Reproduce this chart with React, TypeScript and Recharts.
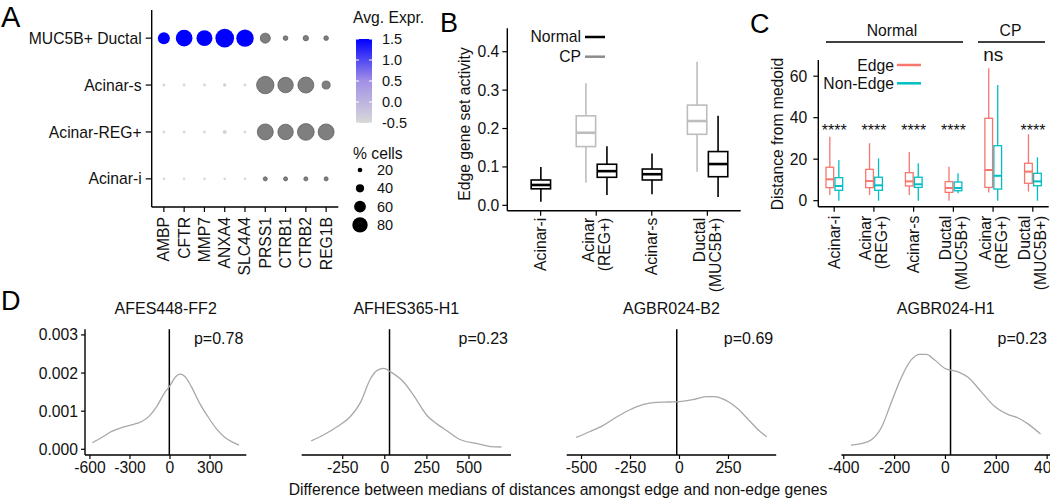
import React from "react";
import {
  ScatterChart,
  Scatter,
  ComposedChart,
  Bar,
  LineChart,
  Line,
  XAxis,
  YAxis,
  ReferenceLine,
} from "recharts";

const FONT = "Arial, 'Liberation Sans', Helvetica, sans-serif";
const FS = 15.7;

// ---------- A: dot plot ----------
const genes = ["AMBP", "CFTR", "MMP7", "ANXA4", "SLC4A4", "PRSS1", "CTRB1", "CTRB2", "REG1B"];
const cellTypes = ["Acinar-i", "Acinar-REG+", "Acinar-s", "MUC5B+ Ductal"];
// % cells expressing, per cell type (bottom row first)
const pctAcinarI = [9, 9, 9, 9, 9, 17, 17, 17, 17];
const pctAcinarREG = [11, 11, 11, 17, 11, 83, 80, 87, 83];
const pctAcinarS = [11, 11, 11, 14, 11, 91, 80, 83, 39];
const pctDuctal = [61, 87, 83, 98, 91, 50, 20, 24, 20];
// avg. expression of the ductal markers (first five genes); acinar markers drawn grey
const exprAcinarI = [-0.5, -0.5, -0.5, -0.5, -0.5];
const exprAcinarREG = [-0.5, -0.5, -0.5, -0.4, -0.5];
const exprAcinarS = [-0.5, -0.5, -0.5, -0.4, -0.5];
const exprDuctal = [1.5, 1.5, 1.5, 1.5, 1.5];
const exprBreaks = [1.5, 1.0, 0.5, 0.0, -0.5];
const pctBreaks = [20, 40, 60, 80];

// ---------- B: edge gene set activity ----------
const bLabels = ["Acinar-i", "Acinar\n(REG+)", "Acinar-s", "Ductal\n(MUC5B+)"];
// [min, q1, median, q3, max]
const bNormal = [
  [0.009, 0.043, 0.053, 0.066, 0.1],
  [0.027, 0.073, 0.089, 0.107, 0.154],
  [0.029, 0.066, 0.081, 0.0945, 0.135],
  [0.022, 0.0745, 0.1075, 0.14, 0.233],
];
const bCP = [
  null,
  [0.059, 0.153, 0.189, 0.233, 0.318],
  null,
  [0.0875, 0.185, 0.2195, 0.261, 0.374],
];

// ---------- C: distance from medoid ----------
const cLabels = [
  "Acinar-i",
  "Acinar\n(REG+)",
  "Acinar-s",
  "Ductal\n(MUC5B+)",
  "Acinar\n(REG+)",
  "Ductal\n(MUC5B+)",
];
const cEdge = [
  [2.7, 6.3, 10.3, 16.1, 30.8],
  [2.7, 6.3, 9.5, 15.1, 27.7],
  [2.7, 7.1, 9.3, 13.5, 23.5],
  [0, 4.0, 6.1, 9.2, 16.4],
  [3.9, 6.4, 14.8, 39.7, 63.8],
  [4.4, 8.4, 14.0, 18.0, 32.0],
];
const cNonEdge = [
  [0, 5.0, 7.1, 11.1, 19.6],
  [0, 5.0, 7.4, 11.3, 20.4],
  [0, 6.4, 7.9, 11.3, 18.0],
  [3.6, 4.8, 6.1, 9.0, 13.2],
  [0, 5.6, 12.0, 26.5, 55.8],
  [0, 7.2, 9.3, 13.2, 20.9],
];
const cSig = ["****", "****", "****", "****", "ns", "****"];

// ---------- D: densities ----------
const dSamples = ["AFES448-FF2", "AFHES365-H1", "AGBR024-B2", "AGBR024-H1"];
const dPvals = ["p=0.78", "p=0.23", "p=0.69", "p=0.23"];
const dObserved = [-5, 28, -14, 20];
const dTicks = [
  [-600, -300, 0, 300],
  [-250, 0, 250, 500],
  [-500, -250, 0, 250],
  [-400, -200, 0, 200, 400],
];
const densAFES448 = [
  [-582, 0.000175], [-512, 0.00031], [-437, 0.00047], [-362, 0.00057], [-287, 0.00064],
  [-212, 0.00073], [-162, 0.00085], [-100, 0.00112], [-37, 0.0015], [0, 0.00167],
  [37, 0.00188], [75, 0.00197], [112, 0.00191], [162, 0.00163], [225, 0.00119],
  [287, 0.00084], [350, 0.00053], [412, 0.00031], [462, 0.0002], [517, 0.00011],
];
const densAFHES365 = [
  [-437, 0.00022], [-362, 0.00038], [-283, 0.00059], [-204, 0.00086], [-144, 0.00123],
  [-85, 0.00185], [-45, 0.00207], [-6, 0.00212], [34, 0.00203], [113, 0.00176],
  [172, 0.00141], [252, 0.00088], [311, 0.00066], [371, 0.00048], [450, 0.00025],
  [549, 0.00015], [628, 0.00007], [693, 0.00006],
];
const densAGBR024B2 = [
  [-527, 0.00031], [-459, 0.00046], [-391, 0.00062], [-323, 0.00084], [-255, 0.00103],
  [-187, 0.00117], [-119, 0.00123], [-51, 0.00124], [0, 0.00125], [68, 0.0013],
  [136, 0.00138], [179, 0.00138], [221, 0.00132], [289, 0.0011], [357, 0.00075],
  [408, 0.00048], [445, 0.00033],
];
const densAGBR024H1 = [
  [-372, 0.00011], [-331, 0.00015], [-291, 0.00025], [-252, 0.00057], [-213, 0.00123],
  [-173, 0.00189], [-134, 0.00235], [-101, 0.00249], [-75, 0.00249], [-42, 0.00234],
  [-2, 0.00212], [50, 0.00203], [89, 0.00189], [142, 0.0015], [194, 0.00112],
  [247, 0.00091], [286, 0.00082], [326, 0.00066], [374, 0.0004],
];
const dDensities = [densAFES448, densAFHES365, densAGBR024B2, densAGBR024H1];
const dYTicks = [0, 0.001, 0.002, 0.003];

// layout of the four density panels (pixels)
const dLayout = [
  { left: 0, width: 255, ml: 0, mr: 8.7 },
  { left: 290, width: 225, ml: 11.7, mr: 4 },
  { left: 555, width: 225, ml: 11.7, mr: 3.8 },
  { left: 815, width: 235, ml: 26.4, mr: 0 },
];

const axisLine = { stroke: "#000", strokeWidth: 1.4 };
const tickLine = { stroke: "#000", strokeWidth: 1.2 };
const tickText = { fontSize: FS, fill: "#111", fontFamily: FONT };

const CP_GREY = "#bdbdbd";
const EDGE = "#F8766D";
const NON_EDGE = "#00BFC4";

const mix = (a: number[], b: number[], t: number) =>
  `rgb(${a.map((v, i) => Math.round(v + (b[i] - v) * t)).join(",")})`;
const exprColor = (v: number) => {
  const lo = [217, 217, 217], mid = [162, 144, 230], hi = [0, 0, 255];
  return v <= 0.5 ? mix(lo, mid, (v + 0.5) / 1) : mix(mid, hi, (v - 0.5) / 1);
};
const radius = (pct: number) => 0.5 + 0.09 * pct;

const pctRows = [pctAcinarI, pctAcinarREG, pctAcinarS, pctDuctal];
const exprRows = [exprAcinarI, exprAcinarREG, exprAcinarS, exprDuctal];
const dotData = pctRows.flatMap((row, ri) =>
  row.map((pct, gi) => ({
    x: gi + 1,
    y: ri + 1,
    pct,
    expr: gi < exprRows[ri].length ? exprRows[ri][gi] : null,
  }))
);

const bData = bLabels.map((_, i) => ({ x: i + 1, normal: bNormal[i], cp: bCP[i] }));
const cData = cLabels.map((_, i) => ({
  x: i + 1,
  edge: cEdge[i],
  nonEdge: cNonEdge[i],
  sig: cSig[i],
}));

const DotShape = (p: any) => {
  const d = p.payload;
  const r = radius(d.pct);
  if (d.expr == null)
    return <circle cx={p.cx} cy={p.cy} r={r} fill="#7f7f7f" stroke="#606060" strokeWidth={0.8} />;
  return <circle cx={p.cx} cy={p.cy} r={r} fill={exprColor(d.expr)} />;
};

const RotTick = ({ x, y, payload, labels }: any) => {
  const lines = String(labels[Math.round(payload.value) - 1] ?? "").split("\n");
  const lh = 1.02;
  const first = 0.35 - ((lines.length - 1) * lh) / 2;
  return (
    <text
      transform={`rotate(-90 ${x} ${y})`}
      x={x}
      y={y}
      textAnchor="end"
      fontSize={FS}
      fontFamily={FONT}
      fill="#111"
    >
      {lines.map((l, i) => (
        <tspan key={i} x={x} dy={`${i === 0 ? first : lh}em`}>
          {l}
        </tspan>
      ))}
    </text>
  );
};

// significance label baselines (data units of panel C)
const STAR_Y = 31.2;
const NS_Y = 67.1;

const boxShape =
  (key: string, color: string, lw: number, mw: number, partner?: string, withSig?: boolean) =>
  (p: any) => {
    const s = p.payload?.[key];
    if (!s || !p.height) return <g />;
    const [mn, q1, md, q3, mx] = s;
    const top = Math.min(p.y, p.y + p.height);
    const k = Math.abs(p.height) / (mx - mn);
    const Y = (v: number) => top + (mx - v) * k;
    const x0 = partner && !p.payload[partner] ? p.x - p.width / 2 : p.x;
    const w = p.width;
    const cx = x0 + w / 2;
    const sig = p.payload.sig;
    return (
      <g>
        <line x1={cx} x2={cx} y1={Y(mx)} y2={Y(q3)} stroke={color} strokeWidth={lw} />
        <line x1={cx} x2={cx} y1={Y(q1)} y2={Y(mn)} stroke={color} strokeWidth={lw} />
        <rect
          x={x0 + lw / 2}
          y={Y(q3)}
          width={w - lw}
          height={Y(q1) - Y(q3)}
          fill="#fff"
          stroke={color}
          strokeWidth={lw}
        />
        <line x1={x0 + lw / 2} x2={x0 + w - lw / 2} y1={Y(md)} y2={Y(md)} stroke={color} strokeWidth={mw} />
        {withSig && sig && (
          <text
            x={x0 + w}
            y={Y(sig === "ns" ? NS_Y : STAR_Y)}
            textAnchor="middle"
            fontSize={sig === "ns" ? 19 : 16}
            fontFamily={FONT}
            fill="#111"
          >
            {sig}
          </text>
        )}
      </g>
    );
  };

function DotPlot() {
  return (
    <ScatterChart width={345} height={300} margin={{ top: 10, right: 6.7, bottom: 0, left: 0 }}>
      <XAxis
        type="number"
        dataKey="x"
        domain={[0.4, 9.6]}
        ticks={genes.map((_, i) => i + 1)}
        interval={0}
        height={93}
        axisLine={axisLine}
        tickLine={tickLine}
        tickSize={5}
        tickMargin={5}
        tick={(p: any) => <RotTick {...p} labels={genes} />}
      />
      <YAxis
        type="number"
        dataKey="y"
        domain={[0.4, 4.6]}
        ticks={[1, 2, 3, 4]}
        interval={0}
        width={151.7}
        axisLine={axisLine}
        tickLine={tickLine}
        tickSize={6}
        tickMargin={4}
        tickFormatter={(v: number) => cellTypes[v - 1]}
        tick={tickText}
      />
      <Scatter data={dotData} shape={DotShape} isAnimationActive={false} />
    </ScatterChart>
  );
}

function ActivityBoxes() {
  return (
    <ComposedChart
      width={305}
      height={300}
      data={bData}
      barGap={0}
      margin={{ top: 28.3, right: 4.3, bottom: 0, left: 0 }}
    >
      <XAxis
        type="number"
        dataKey="x"
        domain={[0.4, 4.6]}
        ticks={[1, 2, 3, 4]}
        interval={0}
        height={89.3}
        axisLine={axisLine}
        tickLine={tickLine}
        tickSize={5}
        tickMargin={2}
        tick={(p: any) => <RotTick {...p} labels={bLabels} />}
      />
      <YAxis
        type="number"
        domain={[-0.014, 0.461]}
        ticks={[0, 0.1, 0.2, 0.3, 0.4]}
        interval={0}
        width={67.3}
        axisLine={axisLine}
        tickLine={tickLine}
        tickSize={5}
        tickMargin={3}
        tickFormatter={(v: number) => v.toFixed(1)}
        tick={tickText}
      />
      <Bar
        dataKey={(d: any) => (d.cp ? [d.cp[0], d.cp[4]] : null)}
        barSize={21}
        shape={boxShape("cp", CP_GREY, 1.6, 2.6)}
        isAnimationActive={false}
      />
      <Bar
        dataKey={(d: any) => [d.normal[0], d.normal[4]]}
        barSize={21}
        shape={boxShape("normal", "#000", 1.6, 2.6, "cp")}
        isAnimationActive={false}
      />
    </ComposedChart>
  );
}

function DistanceBoxes() {
  return (
    <ComposedChart
      width={295}
      height={300}
      data={cData}
      barGap={0}
      margin={{ top: 60, right: 1.3, bottom: 0, left: 0 }}
    >
      <XAxis
        type="number"
        dataKey="x"
        domain={[0.6, 6.4]}
        ticks={[1, 2, 3, 4, 5, 6]}
        interval={0}
        height={93.3}
        axisLine={axisLine}
        tickLine={tickLine}
        tickSize={5}
        tickMargin={4}
        tick={(p: any) => <RotTick {...p} labels={cLabels} />}
      />
      <YAxis
        type="number"
        domain={[-2.9, 67.8]}
        ticks={[0, 20, 40, 60]}
        interval={0}
        width={63.3}
        axisLine={axisLine}
        tickLine={tickLine}
        tickSize={5}
        tickMargin={6}
        tick={tickText}
      />
      <Bar
        dataKey={(d: any) => [d.edge[0], d.edge[4]]}
        barSize={9}
        shape={boxShape("edge", EDGE, 1.3, 2, undefined, true)}
        isAnimationActive={false}
      />
      <Bar
        dataKey={(d: any) => [d.nonEdge[0], d.nonEdge[4]]}
        barSize={9}
        shape={boxShape("nonEdge", NON_EDGE, 1.3, 2)}
        isAnimationActive={false}
      />
    </ComposedChart>
  );
}

function Density({ i }: { i: number }) {
  const pts = dDensities[i].map(([x, y]) => ({ x, y }));
  const xs = dDensities[i].map((d) => d[0]);
  const lo = Math.min(...xs);
  const hi = Math.max(...xs);
  const pad = (hi - lo) * 0.05;
  const ypad = (dYTicks[dYTicks.length - 1] - dYTicks[0]) * 0.05;
  const L = dLayout[i];
  return (
    <LineChart
      width={L.width}
      height={199}
      data={pts}
      margin={{ top: 29.2, right: L.mr, bottom: 0, left: L.ml }}
    >
      <XAxis
        type="number"
        dataKey="x"
        domain={[lo - pad, hi + pad]}
        ticks={dTicks[i]}
        interval={0}
        height={44}
        axisLine={axisLine}
        tickLine={tickLine}
        tickSize={4}
        tickMargin={3}
        tick={tickText}
      />
      <YAxis
        type="number"
        domain={[dYTicks[0] - ypad, dYTicks[dYTicks.length - 1] + ypad]}
        ticks={dYTicks}
        interval={0}
        width={85}
        hide={i > 0}
        axisLine={axisLine}
        tickLine={tickLine}
        tickSize={4}
        tickMargin={3}
        tickFormatter={(v: number) => v.toFixed(3)}
        tick={tickText}
      />
      <ReferenceLine x={dObserved[i]} stroke="#000" strokeWidth={1.5} />
      <Line
        type="monotone"
        dataKey="y"
        stroke="#a8a8a8"
        strokeWidth={1.3}
        dot={false}
        isAnimationActive={false}
      />
    </LineChart>
  );
}

function Overlay() {
  const t = { fontFamily: FONT, fontSize: FS, fill: "#111" };
  const barTop = 39;
  const barH = 84;
  const exprY = (v: number) => barTop + ((1.5 - v) / 2) * barH;
  const dPlot = dLayout.map((L) => ({
    l: L.left + (L === dLayout[0] ? 85 : L.ml),
    r: L.left + L.width - L.mr,
  }));
  return (
    <svg
      width={1050}
      height={499}
      style={{ position: "absolute", left: 0, top: 0, pointerEvents: "none" }}
    >
      <defs>
        <linearGradient id="exprGrad" x1="0" y1="1" x2="0" y2="0">
          <stop offset="0" stopColor="#d9d9d9" />
          <stop offset="0.5" stopColor="#a290e6" />
          <stop offset="1" stopColor="#0000ff" />
        </linearGradient>
      </defs>
      {/* panel letters */}
      <text x={1} y={27} fontSize={29} fontFamily={FONT}>A</text>
      <text x={440} y={32} fontSize={27} fontFamily={FONT}>B</text>
      <text x={750} y={33} fontSize={27} fontFamily={FONT}>C</text>
      <text x={1} y={310} fontSize={27} fontFamily={FONT}>D</text>

      {/* A legends */}
      <text x={353} y={22.5} {...t}>Avg. Expr.</text>
      <rect x={356} y={barTop} width={16} height={barH} fill="url(#exprGrad)" />
      {exprBreaks.map((v) => (
        <g key={v}>
          <line x1={356} x2={359} y1={exprY(v)} y2={exprY(v)} stroke="#fff" strokeWidth={1} />
          <line x1={369} x2={372} y1={exprY(v)} y2={exprY(v)} stroke="#fff" strokeWidth={1} />
          <text x={382} y={exprY(v)} dominantBaseline="central" {...t} fontSize={14.5}>
            {v.toFixed(1)}
          </text>
        </g>
      ))}
      <text x={353} y={158.5} {...t}>% cells</text>
      {pctBreaks.map((v, i) => (
        <g key={v}>
          <circle cx={360} cy={170 + i * 18.3} r={radius(v)} fill="#000" />
          <text x={377} y={170 + i * 18.3} dominantBaseline="central" {...t} fontSize={14.5}>
            {v}
          </text>
        </g>
      ))}

      {/* B legend + axis title */}
      <text x={581} y={42.2} textAnchor="end" {...t}>Normal</text>
      <line x1={585} x2={605} y1={37} y2={37} stroke="#000" strokeWidth={2.5} />
      <text x={581} y={62.2} textAnchor="end" {...t}>CP</text>
      <line x1={585} x2={605} y1={56.7} y2={56.7} stroke="#8c8c8c" strokeWidth={2.5} />
      <text
        transform="rotate(-90 464 124)"
        x={464}
        y={124}
        textAnchor="middle"
        dominantBaseline="central"
        {...t}
      >
        Edge gene set activity
      </text>

      {/* C headers, legend, axis title */}
      <text x={892} y={35.5} textAnchor="middle" {...t}>Normal</text>
      <line x1={826} x2={963} y1={42} y2={42} stroke="#000" strokeWidth={1.5} />
      <text x={1010.5} y={35.5} textAnchor="middle" {...t}>CP</text>
      <line x1={978} x2={1045} y1={42} y2={42} stroke="#000" strokeWidth={1.5} />
      <text x={894} y={70.5} textAnchor="end" {...t}>Edge</text>
      <line x1={897} x2={921} y1={65} y2={65} stroke={EDGE} strokeWidth={2.5} />
      <text x={894} y={88.8} textAnchor="end" {...t}>Non-Edge</text>
      <line x1={897} x2={921} y1={83.3} y2={83.3} stroke={NON_EDGE} strokeWidth={2.5} />
      <text
        transform="rotate(-90 777.5 134)"
        x={777.5}
        y={134}
        textAnchor="middle"
        dominantBaseline="central"
        {...t}
      >
        Distance from medoid
      </text>

      {/* D titles, p-values, shared x title */}
      {dPlot.map((P, i) => (
        <g key={i}>
          <text x={(P.l + P.r) / 2} y={314} textAnchor="middle" {...t} fontSize={16}>
            {dSamples[i]}
          </text>
          <text x={P.r - 3} y={344} textAnchor="end" {...t} fontSize={16}>
            {dPvals[i]}
          </text>
        </g>
      ))}
      <text x={558} y={495} textAnchor="middle" {...t}>
        Difference between medians of distances amongst edge and non-edge genes
      </text>
    </svg>
  );
}

export default function App() {
  return (
    <div
      style={{
        position: "absolute",
        left: 0,
        top: 0,
        width: 1050,
        height: 499,
        background: "#fff",
        overflow: "hidden",
        fontFamily: FONT,
      }}
    >
      <div style={{ position: "absolute", left: 0, top: 0 }}>
        <DotPlot />
      </div>
      <div style={{ position: "absolute", left: 440, top: 0 }}>
        <ActivityBoxes />
      </div>
      <div style={{ position: "absolute", left: 755, top: 0 }}>
        <DistanceBoxes />
      </div>
      {dLayout.map((L, i) => (
        <div key={i} style={{ position: "absolute", left: L.left, top: 300 }}>
          <Density i={i} />
        </div>
      ))}
      <Overlay />
    </div>
  );
}
